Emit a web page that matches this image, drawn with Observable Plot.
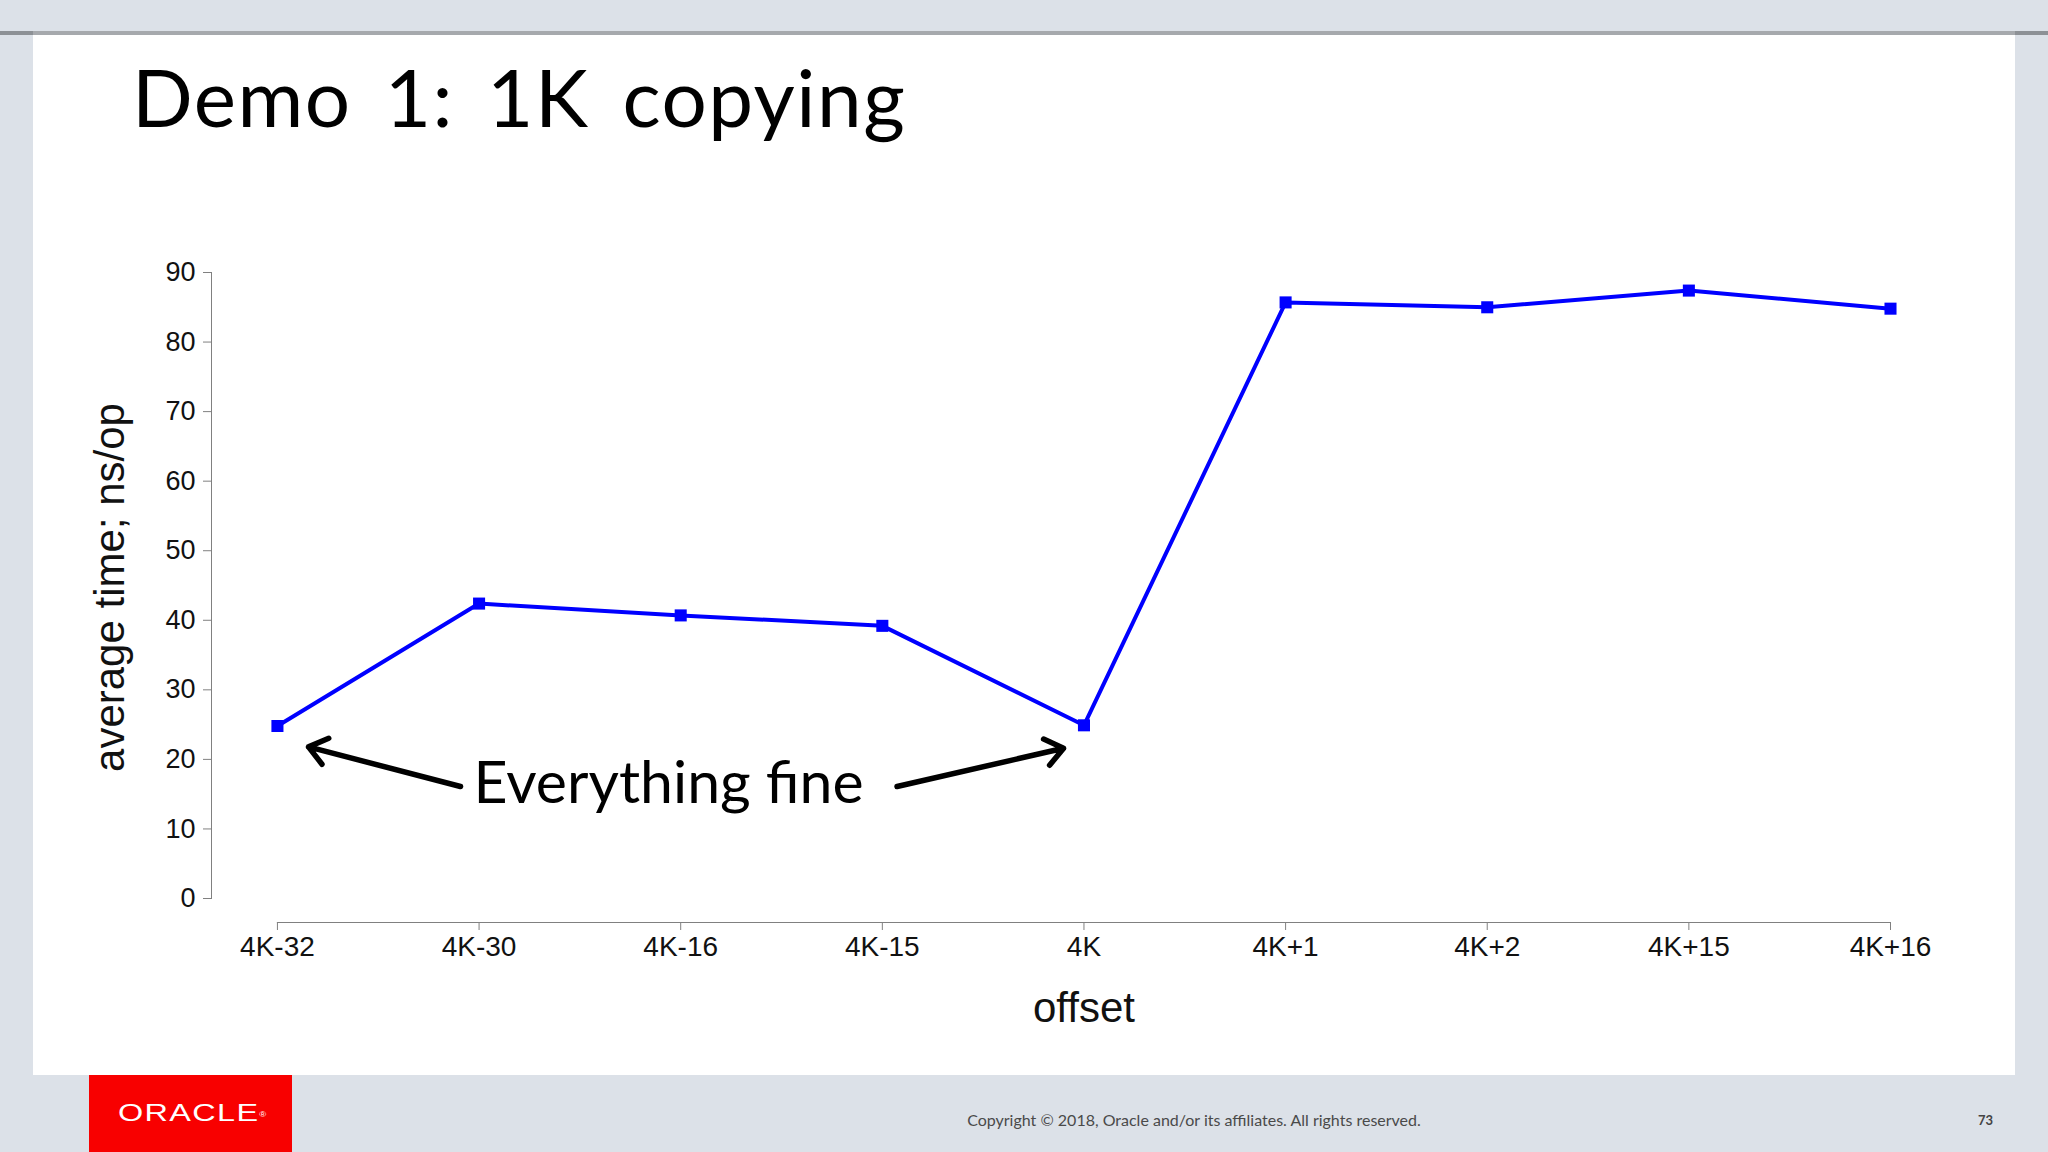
<!DOCTYPE html>
<html>
<head>
<meta charset="utf-8">
<script src="https://cdn.jsdelivr.net/npm/d3@7"></script>
<script src="https://cdn.jsdelivr.net/npm/@observablehq/plot@0.6"></script>
<style>
html, body { margin: 0; padding: 0; }
body { width: 2048px; height: 1152px; background: #dce1e8; position: relative; overflow: hidden; font-family: Lato, "Liberation Sans", sans-serif; }
#topline { position: absolute; left: 0; top: 31px; width: 2048px; height: 4px; background: #a6a9ad; }
#topline2 { position: absolute; left: 2015px; top: 31px; width: 33px; height: 4px; background: #8d9196; }
#topline3 { position: absolute; left: 0; top: 31px; width: 33px; height: 4px; background: #8d9196; }
#panel { position: absolute; left: 33px; top: 35px; width: 1982px; height: 1040px; background: #ffffff; }
#title { position: absolute; left: 132px; top: 56px; font-family: Lato, sans-serif; font-size: 80px; line-height: 80px; letter-spacing: 1.5px; word-spacing: 11px; color: #000; white-space: nowrap; }
#chart { position: absolute; left: 0; top: 0; }
#logo { position: absolute; left: 89px; top: 1075px; width: 203px; height: 77px; background: #f80000; }
#logo span { position: absolute; left: 29px; top: 24px; color: #fff; font-family: "Liberation Sans", Arial, sans-serif; font-size: 24px; line-height: 28px; letter-spacing: 1px; transform: scaleX(1.35); transform-origin: left center; white-space: nowrap; }
#logo sup { font-size: 7px; letter-spacing: 0; vertical-align: top; position: relative; top: 2px; }
#copy { position: absolute; left: 0; width: 2388px; top: 1110px; text-align: center; font-family: Lato, sans-serif; font-size: 16px; color: #4a4a4a; white-space: nowrap; }
#page { position: absolute; left: 1978px; top: 1112px; font-family: Lato, sans-serif; font-size: 13px; font-weight: bold; color: #444; }
</style>
</head>
<body>
<div id="topline"></div>
<div id="topline3"></div>
<div id="topline2"></div>
<div id="panel"></div>
<div id="title">Demo 1: 1K copying</div>
<div id="chart"></div>
<div id="logo"><span>ORACLE<sup>®</sup></span></div>
<div id="copy">Copyright © 2018, Oracle and/or its affiliates. All rights reserved.</div>
<div id="page">73</div>
<script>
// ---- data ----
const categories = ["4K-32", "4K-30", "4K-16", "4K-15", "4K", "4K+1", "4K+2", "4K+15", "4K+16"];
const times = [24.8, 42.4, 40.7, 39.2, 24.9, 85.7, 85.0, 87.4, 84.8];
const yTicks = [0, 10, 20, 30, 40, 50, 60, 70, 80, 90];
const yLabel = "average time; ns/op";
const xLabel = "offset";
const annotationLabels = ["Everything fine"];
const annotationX = [1.94];
const annotationY = [16.4];
const arrowX1 = [0.908, 3.073];
const arrowY1 = [16.1, 16.1];
const arrowX2 = [0.154, 3.899];
const arrowY2 = [21.8, 21.6];

const points = times.map((v, i) => ({i, v, label: categories[i]}));
const annotations = annotationLabels.map((t, k) => ({t, x: annotationX[k], y: annotationY[k]}));
const arrows = arrowX1.map((x1, k) => ({x1, y1: arrowY1[k], x2: arrowX2[k], y2: arrowY2[k]}));

const axisGray = "#808080";
const textColor = "#111111";
const blue = "#0000ff";

const chart = Plot.plot({
  width: 2048,
  height: 1152,
  marginLeft: 211,
  marginRight: 158,
  marginTop: 272,
  marginBottom: 254,
  style: {background: "transparent", fontFamily: "'Liberation Sans', Arial, sans-serif", color: textColor},
  x: {type: "linear", domain: [-0.327, categories.length - 1]},
  y: {type: "linear", domain: [0, 90]},
  marks: [
    Plot.frame({anchor: "left", stroke: axisGray}),
    Plot.axisY({ticks: yTicks, tickSize: 8, tickPadding: 8, fontSize: 27, label: null, stroke: axisGray, color: textColor}),
    Plot.ruleY([0], {x1: 0, x2: categories.length - 1, dy: 24, stroke: axisGray}),
    Plot.axisX({ticks: d3.range(categories.length), tickFormat: i => categories[i], tickSize: 8, tickPadding: 6, fontSize: 28, dy: 24, label: null, stroke: axisGray, color: textColor}),
    Plot.text([yLabel], {frameAnchor: "left", textAnchor: "middle", rotate: -90, dx: -101, dy: 2, fontSize: 42, fill: textColor}),
    Plot.text([xLabel], {x: () => (categories.length - 1) / 2, frameAnchor: "bottom", textAnchor: "middle", dy: 123, fontSize: 42, fill: textColor}),
    Plot.line(points, {x: "i", y: "v", stroke: blue, strokeWidth: 4}),
    Plot.dot(points, {x: "i", y: "v", symbol: "square", r: 6.8, fill: blue, stroke: "none"}),
    Plot.arrow(arrows, {x1: "x1", y1: "y1", x2: "x2", y2: "y2", stroke: "#000", strokeWidth: 5.5, headLength: 6, headAngle: 75}),
    Plot.text(annotations, {x: "x", y: "y", text: "t", fontSize: 59, fontFamily: "Lato, sans-serif", fill: "#000"})
  ]
});
document.getElementById("chart").appendChild(chart);
</script>
</body>
</html>
